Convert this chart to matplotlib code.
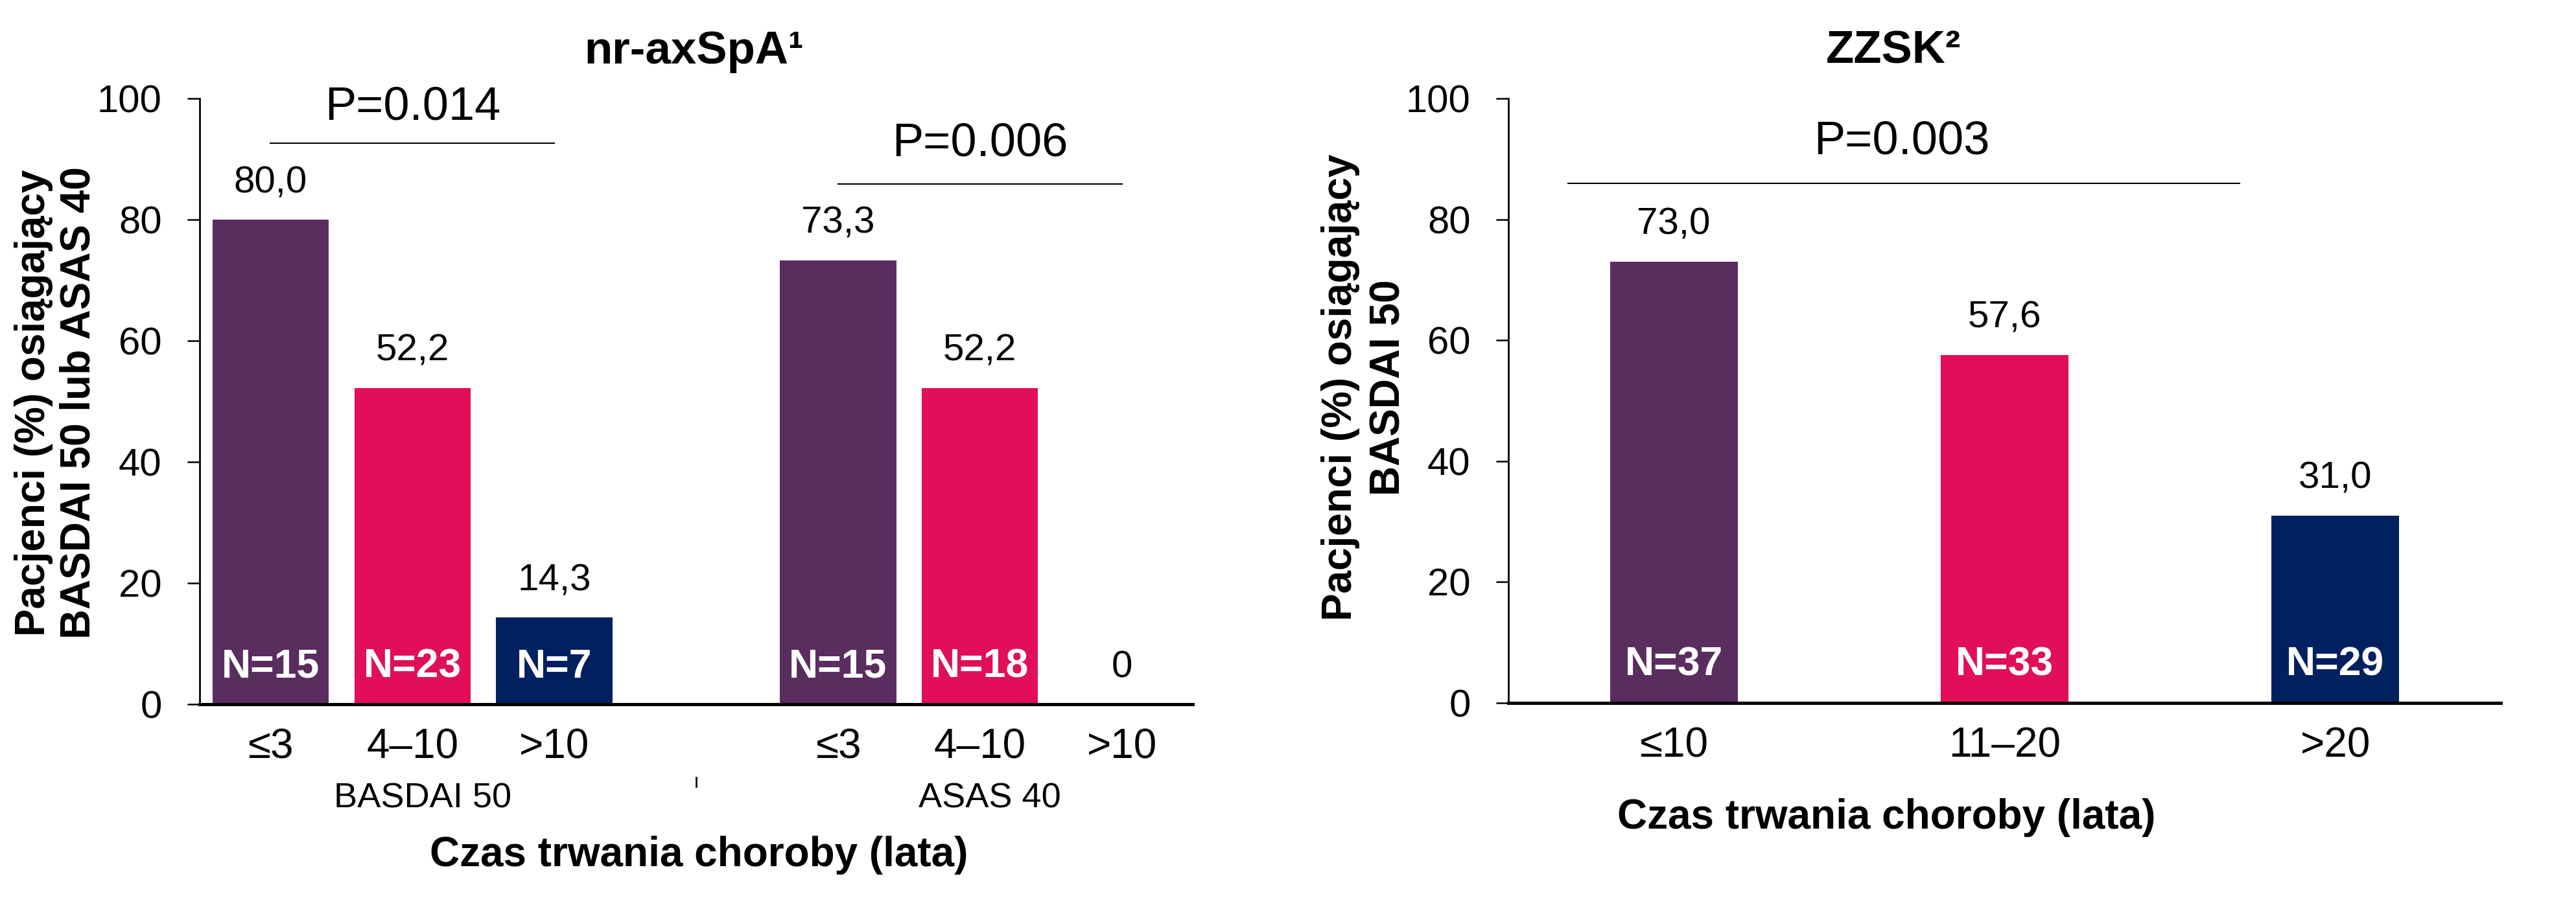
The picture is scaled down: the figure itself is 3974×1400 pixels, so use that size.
import matplotlib
matplotlib.use("Agg")
import matplotlib.pyplot as plt
from matplotlib import font_manager as fm
import matplotlib.transforms as mtransforms

# ---------------- data ----------------
left_groups = ["BASDAI 50", "ASAS 40"]
left_cats = ["≤3", "4–10", ">10"]
basdai_vals = [80.0, 52.2, 14.3]
basdai_n = [15, 23, 7]
asas_vals = [73.3, 52.2, 0.0]
asas_n = [15, 18, None]
left_pvals = ["P=0.014", "P=0.006"]

right_cats = ["≤10", "11–20", ">20"]
right_vals = [73.0, 57.6, 31.0]
right_n = [37, 33, 29]
right_pval = "P=0.003"

left_title = "nr-axSpA¹"
right_title = "ZZSK²"
left_ylabel = ["Pacjenci (%) osiągający", "BASDAI 50 lub ASAS 40"]
right_ylabel = ["Pacjenci (%) osiągający", "BASDAI 50"]
xlabel = "Czas trwania choroby (lata)"

colors = ["#5A2D5F", "#E10E5A", "#002060"]

# ---------------- fonts ----------------
names = {f.name for f in fm.fontManager.ttflist}
NARROW = "Liberation Sans Narrow" if "Liberation Sans Narrow" in names else "Liberation Sans"
NFAM = [NARROW, "Liberation Sans", "DejaVu Sans"]
WFAM = ["Liberation Sans", "DejaVu Sans"]
plt.rcParams["font.family"] = NFAM

W, H = 3974, 1400
fig = plt.figure(figsize=(W / 100, H / 100), dpi=100)


def fx(px):
    return px / W


def fy(py):
    return 1 - py / H


def fmt(v):
    if v == 0:
        return "0"
    return f"{v:.1f}".replace(".", ",")


def style_axes(ax):
    ax.set_ylim(0, 100)
    ax.set_yticks([0, 20, 40, 60, 80, 100])
    ax.spines["top"].set_visible(False)
    ax.spines["right"].set_visible(False)
    ax.spines["left"].set_linewidth(2.0)
    ax.spines["bottom"].set_linewidth(3.6)
    ax.tick_params(axis="y", direction="out", length=14, width=1.8,
                   labelsize=43, pad=28)
    ax.tick_params(axis="x", length=0, labelsize=46, pad=26)


def ylabel_lines(lines, xs_px, y_px):
    for txt, xp in zip(lines, xs_px):
        fig.text(fx(xp), fy(y_px), txt, ha="center", va="center", rotation=90,
                 fontsize=46, fontweight="bold", family=WFAM)


# ---------------- left chart ----------------
axL = fig.add_axes([fx(308), fy(1087), fx(1840 - 308), (1087 - 152) / H])
xs_b = [0, 1, 2]
xs_a = [4, 5, 6]
axL.bar(xs_b, basdai_vals, width=0.82, color=colors)
axL.bar(xs_a, asas_vals, width=0.82, color=colors)
axL.set_xlim(-0.5, 6.5)
style_axes(axL)
axL.set_xticks(xs_b + xs_a, left_cats + left_cats)

for xs, vals, ns in [(xs_b, basdai_vals, basdai_n), (xs_a, asas_vals, asas_n)]:
    for x, v, n in zip(xs, vals, ns):
        axL.annotate(fmt(v), xy=(x, v), xytext=(0, 41), textcoords="offset points",
                     ha="center", va="center", fontsize=42)
        if n is not None:
            axL.text(x, 6.2, f"N={n}", ha="center", va="center", fontsize=45,
                     fontweight="bold", color="white")

# significance lines
axL.plot([0, 2], [92.6, 92.6], color="black", lw=1.5)
axL.text(1, 98.5, left_pvals[0], ha="center", va="center", fontsize=52)
axL.plot([4, 6], [85.9, 85.9], color="black", lw=1.5)
axL.text(5, 92.5, left_pvals[1], ha="center", va="center", fontsize=52)

trL = mtransforms.blended_transform_factory(axL.transData, axL.transAxes)
axL.plot([3, 3], [-0.121, -0.136], transform=trL, color="black", lw=2, clip_on=False)
axL.text(1.07, -0.156, left_groups[0], transform=trL, ha="center", va="center", fontsize=39)
axL.text(5.07, -0.156, left_groups[1], transform=trL, ha="center", va="center", fontsize=39)

fig.text(fx(1078), fy(1320), xlabel, ha="center", va="center", fontsize=46, fontweight="bold")
fig.text(fx(1071), fy(80), left_title, ha="center", va="center", fontsize=51, fontweight="bold")
ylabel_lines(left_ylabel, [52, 122], 622)

# ---------------- right chart ----------------
axR = fig.add_axes([fx(2327), fy(1085), fx(3858 - 2327), (1085 - 152) / H])
xs_r = [0, 1, 2]
axR.bar(xs_r, right_vals, width=0.386, color=colors)
axR.set_xlim(-0.5, 2.5)
style_axes(axR)
axR.set_xticks(xs_r, right_cats)
for x, v, n in zip(xs_r, right_vals, right_n):
    axR.annotate(fmt(v), xy=(x, v), xytext=(0, 41), textcoords="offset points",
                 ha="center", va="center", fontsize=42)
    axR.text(x, 6.3, f"N={n}", ha="center", va="center", fontsize=45,
             fontweight="bold", color="white")

axR.plot([-0.32, 1.71], [86.0, 86.0], color="black", lw=1.5)
axR.text(0.69, 92.8, right_pval, ha="center", va="center", fontsize=52)

fig.text(fx(2910), fy(1262), xlabel, ha="center", va="center", fontsize=46, fontweight="bold")
fig.text(fx(2921), fy(80), right_title, ha="center", va="center", fontsize=51, fontweight="bold")
ylabel_lines(right_ylabel, [2068, 2143], 598)

fig.savefig("out.png", dpi=100)
